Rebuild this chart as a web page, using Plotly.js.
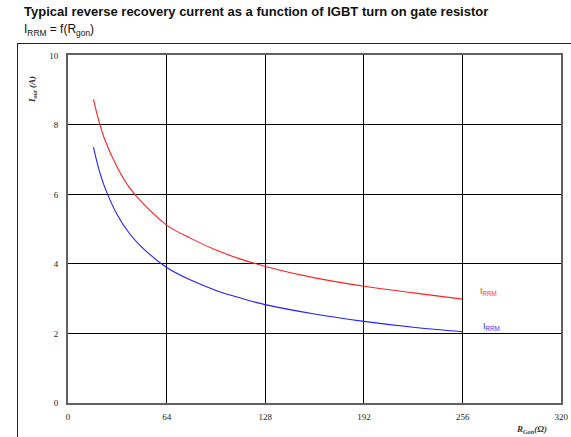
<!DOCTYPE html>
<html>
<head>
<meta charset="utf-8">
<script src="https://cdn.plot.ly/plotly-3.0.1.min.js"></script>
<style>
  html, body { margin: 0; padding: 0; background: #fff; }
  #wrap { position: relative; width: 571px; height: 437px; overflow: hidden; }
  #chart { position: absolute; left: 0; top: 0; width: 571px; height: 437px; }
  /* outer frame of the figure body: top and left edges */
  #frame { position: absolute; left: 17px; top: 43px; width: 600px; height: 420px;
           border-left: 1.5px solid #222; border-top: 1.5px solid #222; pointer-events: none; }
</style>
</head>
<body>
<div id="wrap">
  <div id="chart"></div>
  <div id="frame"></div>
</div>
<script>
// Gate resistance R_Gon (Ohm)
const rgon = [16.5, 20, 24, 32, 40, 48, 64, 80, 96, 112, 128, 160, 192, 224, 256];
// Reverse recovery current I_RRM (A), upper curve
const irrmRed = [8.74, 8.12, 7.56, 6.78, 6.19, 5.77, 5.12, 4.73, 4.40, 4.14, 3.93, 3.60, 3.36, 3.17, 2.99];
// Reverse recovery current I_RRM (A), lower curve
const irrmBlue = [7.36, 6.73, 6.19, 5.41, 4.87, 4.48, 3.90, 3.53, 3.24, 3.02, 2.83, 2.56, 2.35, 2.18, 2.05];

const xTicks = [0, 64, 128, 192, 256, 320];
const yTicks = [0, 2, 4, 6, 8, 10];

const serif = 'Liberation Serif, Times New Roman, serif';
const sans = 'Liberation Sans, Arial, sans-serif';

const traces = [
  { x: rgon, y: irrmRed, mode: 'lines', line: { color: '#ff2020', width: 1.1, shape: 'spline' }, hoverinfo: 'skip', showlegend: false },
  { x: rgon, y: irrmBlue, mode: 'lines', line: { color: '#2020ff', width: 1.1, shape: 'spline' }, hoverinfo: 'skip', showlegend: false }
];

const axisCommon = {
  showline: true, mirror: true, linecolor: '#606060', linewidth: 2,
  showgrid: true, gridcolor: '#000', gridwidth: 1,
  zeroline: false, ticks: '', fixedrange: true,
  tickfont: { family: serif, size: 9, color: '#222' }
};

const layout = {
  width: 571, height: 437,
  margin: { l: 0, r: 0, t: 0, b: 0 },
  paper_bgcolor: '#fff', plot_bgcolor: '#fff',
  xaxis: Object.assign({}, axisCommon, { domain: [0.1191, 0.9830], range: [0, 320], tickvals: xTicks, ticktext: xTicks.map(String), ticklabelstandoff: 4 }),
  yaxis: Object.assign({}, axisCommon, { domain: [0.0778, 0.8730], range: [0, 10], tickvals: yTicks, ticktext: yTicks.map(String), ticklabelstandoff: 6 }),
  annotations: [
    { xref: 'paper', yref: 'paper', x: 0.0385, y: 0.9748, xanchor: 'left', yanchor: 'middle', showarrow: false,
      text: '<b>Typical reverse recovery current as a function of IGBT turn on gate resistor</b>',
      font: { family: sans, size: 13, color: '#111' } },
    { xref: 'paper', yref: 'paper', x: 0.0385, y: 0.9314, xanchor: 'left', yanchor: 'middle', showarrow: false,
      text: 'I<sub>RRM</sub> = f(R<sub>gon</sub>)',
      font: { family: sans, size: 12, color: '#111' } },
    { xref: 'x', yref: 'y', x: 266, y: 3.2, xanchor: 'left', yanchor: 'middle', showarrow: false,
      text: 'I<sub>RRM</sub>', font: { family: sans, size: 9, color: '#ff3030' } },
    { xref: 'x', yref: 'y', x: 268, y: 2.2, xanchor: 'left', yanchor: 'middle', showarrow: false,
      text: 'I<sub>RRM</sub>', font: { family: sans, size: 9, color: '#3030ff' } },
    { xref: 'paper', yref: 'paper', x: 0.0569, y: 0.795, xanchor: 'center', yanchor: 'middle', showarrow: false, textangle: -90,
      text: '<b><i>I<sub>out</sub> (A)</i></b>', font: { family: serif, size: 9, color: '#333' } },
    { xref: 'paper', yref: 'paper', x: 0.930, y: 0.0167, xanchor: 'center', yanchor: 'middle', showarrow: false,
      text: '<b><i>R<sub>Gon</sub>(Ω)</i></b>', font: { family: serif, size: 9, color: '#333' } }
  ]
};

Plotly.newPlot('chart', traces, layout, { staticPlot: true, displayModeBar: false });
</script>
</body>
</html>
